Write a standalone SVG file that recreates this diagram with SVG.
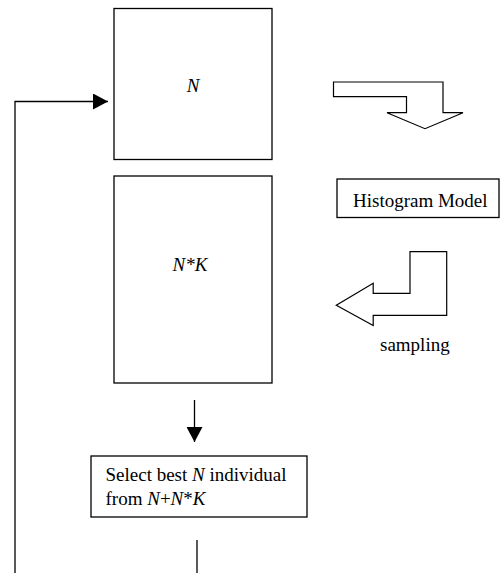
<svg xmlns="http://www.w3.org/2000/svg" width="500" height="573" viewBox="0 0 500 573">
<style>
.box{fill:#fff;stroke:#000;stroke-width:1.3}
.ln{fill:none;stroke:#000;stroke-width:1.3}
.big{fill:#fff;stroke:#000;stroke-width:1.2}
text{font-family:"Liberation Serif","Times New Roman",serif;font-size:19px;fill:#000}
.it{font-style:italic}
</style>
<defs>
<marker id="ah" markerUnits="userSpaceOnUse" markerWidth="16" markerHeight="16" viewBox="0 0 15 16" refX="15" refY="8" orient="auto">
<path d="M0,0 L15,8 L0,16 Z" fill="#000"/>
</marker>
</defs>
<rect width="500" height="573" fill="#fff"/>
<g id="connectors">
<path class="ln" d="M15,573 L15,101.5 L108,101.5" marker-end="url(#ah)"/>
<path class="ln" d="M194.5,400 L194.5,442" marker-end="url(#ah)"/>
<path class="ln" d="M197,540 L197,573"/>
</g>
<g id="node-N">
<rect class="box" x="114" y="8.5" width="158" height="151"/>
<text class="it" x="193" y="92" text-anchor="middle">N</text>
</g>
<g id="node-NK">
<rect class="box" x="114" y="176" width="158" height="207"/>
<text class="it" x="190" y="270.5" text-anchor="middle">N*K</text>
</g>
<g id="node-histogram">
<rect class="box" x="337" y="179" width="162" height="38.5"/>
<text x="353" y="207">Histogram Model</text>
</g>
<g id="arrow-to-model">
<polygon class="big" points="333.5,82 443,82 443,112.7 463,112.7 425,128.7 387,112.7 406.5,112.7 406.5,96.7 333.5,96.7"/>
</g>
<g id="arrow-sampling">
<polygon class="big" points="410,251.7 446.7,251.7 446.7,315.3 373.2,315.3 373.2,325.5 336.3,305.3 373.2,283.3 373.2,293.3 410,293.3"/>
<text x="380" y="350.7">sampling</text>
</g>
<g id="node-select">
<rect class="box" x="91" y="456" width="216" height="61"/>
<text x="105.5" y="481">Select best <tspan class="it">N</tspan> individual</text>
<text x="105.5" y="504.5">from <tspan class="it">N</tspan>+<tspan class="it">N</tspan>*<tspan class="it">K</tspan></text>
</g>
</svg>
